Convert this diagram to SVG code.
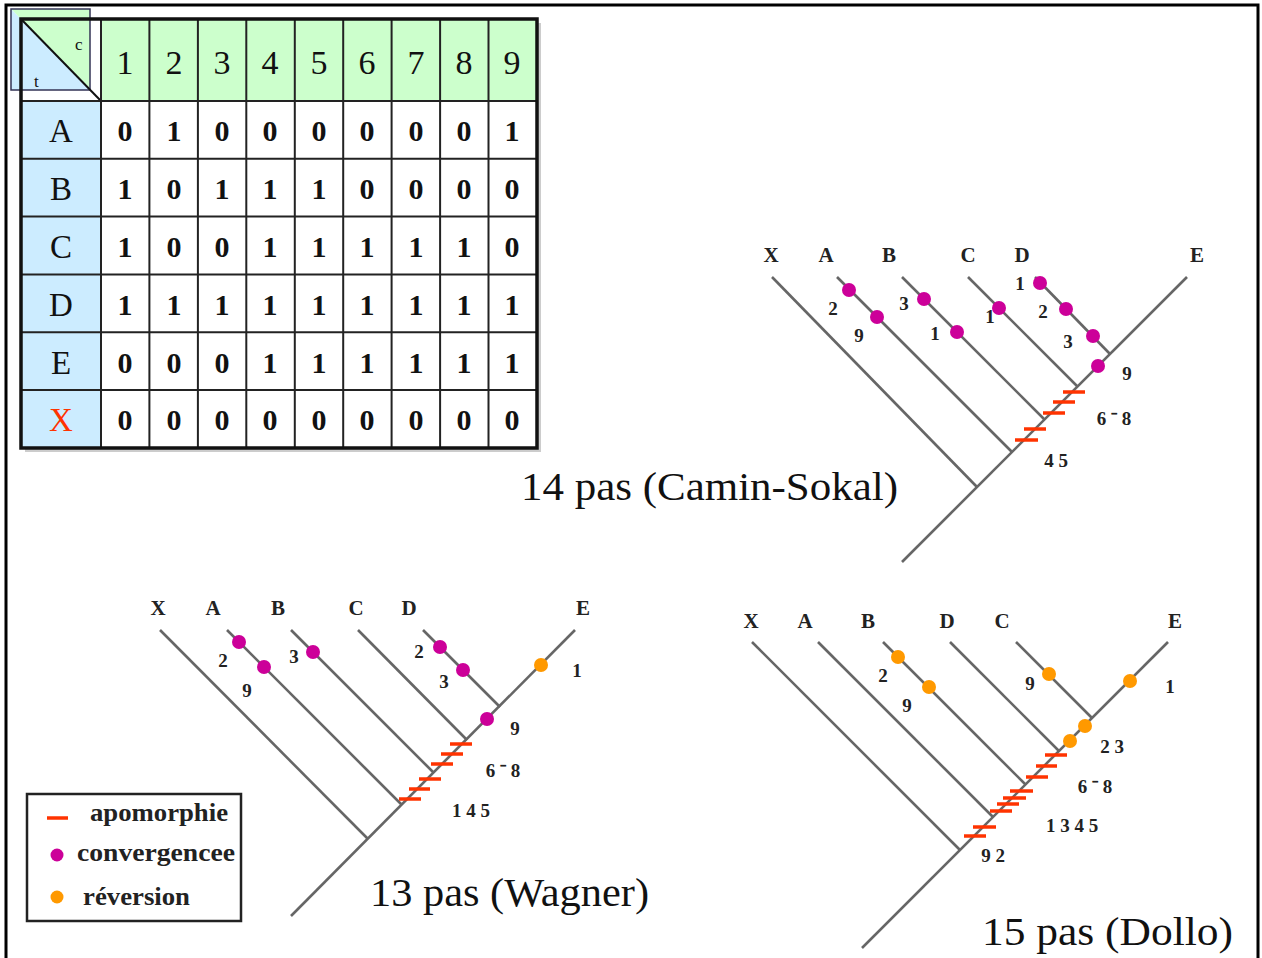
<svg xmlns="http://www.w3.org/2000/svg" width="1262" height="958" viewBox="0 0 1262 958">
<style>
.frame{fill:none;stroke:#000;stroke-width:3}
.grid{stroke:#222;stroke-width:2}
.hd{font-family:"Liberation Serif",serif;font-size:34px;fill:#111;text-anchor:middle}
.rl{font-family:"Liberation Serif",serif;font-size:33px;fill:#111;text-anchor:middle}
.dt{font-family:"Liberation Serif",serif;font-size:30px;font-weight:bold;fill:#111;text-anchor:middle}
.br{stroke:#666;stroke-width:2.6;fill:none;stroke-linecap:butt}
.apo{stroke:#ff3300;stroke-width:3.5}
.cv{fill:#cc0099}
.rv{fill:#ff9900}
.tl{font-family:"Liberation Serif",serif;font-size:21px;font-weight:bold;fill:#222;text-anchor:middle}
.nl{font-family:"Liberation Serif",serif;font-size:19px;font-weight:bold;fill:#222;text-anchor:middle}
.title{font-family:"Liberation Serif",serif;font-size:40px;fill:#111}
.lg{font-family:"Liberation Serif",serif;font-size:25px;font-weight:bold;fill:#222}
</style>
<rect width="1262" height="958" fill="#fff"/>
<path class="frame" d="M6,958 V5 H1258 V958"/>

<g id="table">
  <!-- offset corner shape -->
  <polygon points="11,9 90,9 90,90" fill="#ccffcc"/>
  <polygon points="11,9 11,90 90,90" fill="#ccecff"/>
  <rect x="25" y="23" width="516" height="429" fill="#999" opacity="0.5"/>
  <rect x="21" y="19" width="516" height="429" fill="#fff"/>
  <rect x="101" y="19" width="436" height="82" fill="#ccffcc"/>
  <rect x="21" y="101" width="80" height="347" fill="#ccecff"/>
  <polygon points="21,19 90,19 90,90" fill="#ccffcc"/>
  <polygon points="21,19 21,90 90,90" fill="#ccecff"/>
  <rect x="11" y="9" width="79" height="81" fill="none" stroke="#335" stroke-width="1.5"/>
  <line x1="21" y1="19" x2="101" y2="101" stroke="#111" stroke-width="2"/>
  <text x="75" y="50" font-family="Liberation Serif,serif" font-size="17" fill="#111">c</text>
  <text x="34" y="87" font-family="Liberation Serif,serif" font-size="17" fill="#111">t</text>
  <g class="grid">
    <line x1="101" y1="19" x2="101" y2="448"/>
    <line x1="149.4" y1="19" x2="149.4" y2="448"/>
    <line x1="197.9" y1="19" x2="197.9" y2="448"/>
    <line x1="246.3" y1="19" x2="246.3" y2="448"/>
    <line x1="294.8" y1="19" x2="294.8" y2="448"/>
    <line x1="343.2" y1="19" x2="343.2" y2="448"/>
    <line x1="391.6" y1="19" x2="391.6" y2="448"/>
    <line x1="440.1" y1="19" x2="440.1" y2="448"/>
    <line x1="488.5" y1="19" x2="488.5" y2="448"/>
    <line x1="101" y1="101" x2="537" y2="101"/>
    <line x1="21" y1="158.8" x2="537" y2="158.8"/>
    <line x1="21" y1="216.6" x2="537" y2="216.6"/>
    <line x1="21" y1="274.4" x2="537" y2="274.4"/>
    <line x1="21" y1="332.2" x2="537" y2="332.2"/>
    <line x1="21" y1="390" x2="537" y2="390"/>
  </g>
  <line x1="21" y1="101" x2="101" y2="101" stroke="#222" stroke-width="2"/>
  <rect x="21" y="19" width="516" height="429" fill="none" stroke="#111" stroke-width="3.5"/>
  <g id="hdr">
    <text class="hd" x="125" y="74">1</text><text class="hd" x="174" y="74">2</text><text class="hd" x="222" y="74">3</text>
    <text class="hd" x="270" y="74">4</text><text class="hd" x="319" y="74">5</text><text class="hd" x="367" y="74">6</text>
    <text class="hd" x="416" y="74">7</text><text class="hd" x="464" y="74">8</text><text class="hd" x="512" y="74">9</text>
  </g>
  <g id="rows">
    <text class="rl" x="61" y="142">A</text>
    <text class="rl" x="61" y="200">B</text>
    <text class="rl" x="61" y="258">C</text>
    <text class="rl" x="61" y="316">D</text>
    <text class="rl" x="61" y="374">E</text>
    <text class="rl" x="61" y="431" fill="#ff3300" style="fill:#ff3300">X</text>
  </g>
  <g id="data">
    <text class="dt" y="141"><tspan x="125">0</tspan><tspan x="174">1</tspan><tspan x="222">0</tspan><tspan x="270">0</tspan><tspan x="319">0</tspan><tspan x="367">0</tspan><tspan x="416">0</tspan><tspan x="464">0</tspan><tspan x="512">1</tspan></text>
    <text class="dt" y="199"><tspan x="125">1</tspan><tspan x="174">0</tspan><tspan x="222">1</tspan><tspan x="270">1</tspan><tspan x="319">1</tspan><tspan x="367">0</tspan><tspan x="416">0</tspan><tspan x="464">0</tspan><tspan x="512">0</tspan></text>
    <text class="dt" y="257"><tspan x="125">1</tspan><tspan x="174">0</tspan><tspan x="222">0</tspan><tspan x="270">1</tspan><tspan x="319">1</tspan><tspan x="367">1</tspan><tspan x="416">1</tspan><tspan x="464">1</tspan><tspan x="512">0</tspan></text>
    <text class="dt" y="315"><tspan x="125">1</tspan><tspan x="174">1</tspan><tspan x="222">1</tspan><tspan x="270">1</tspan><tspan x="319">1</tspan><tspan x="367">1</tspan><tspan x="416">1</tspan><tspan x="464">1</tspan><tspan x="512">1</tspan></text>
    <text class="dt" y="373"><tspan x="125">0</tspan><tspan x="174">0</tspan><tspan x="222">0</tspan><tspan x="270">1</tspan><tspan x="319">1</tspan><tspan x="367">1</tspan><tspan x="416">1</tspan><tspan x="464">1</tspan><tspan x="512">1</tspan></text>
    <text class="dt" y="430"><tspan x="125">0</tspan><tspan x="174">0</tspan><tspan x="222">0</tspan><tspan x="270">0</tspan><tspan x="319">0</tspan><tspan x="367">0</tspan><tspan x="416">0</tspan><tspan x="464">0</tspan><tspan x="512">0</tspan></text>
  </g>
</g>

<!-- Camin-Sokal tree -->
<g id="tree-camin">
  <g id="camin-connectors">
    <line class="br" x1="902" y1="562" x2="1187" y2="277"/>
    <line class="br" x1="772" y1="277" x2="977" y2="487"/>
    <line class="br" x1="837" y1="277" x2="1012" y2="452"/>
    <line class="br" x1="902" y1="277" x2="1044" y2="419"/>
    <line class="br" x1="968" y1="277" x2="1077" y2="386"/>
    <line class="br" x1="1035" y1="277" x2="1110" y2="354"/>
  </g>
  <g id="camin-tips">
    <text class="tl" x="771" y="262">X</text>
    <text class="tl" x="826" y="262">A</text>
    <text class="tl" x="889" y="262">B</text>
    <text class="tl" x="968" y="262">C</text>
    <text class="tl" x="1022" y="262">D</text>
    <text class="tl" x="1197" y="262">E</text>
  </g>
  <g id="camin-marks">
    <circle class="cv" cx="849" cy="290" r="7"/>
    <circle class="cv" cx="877" cy="317" r="7"/>
    <circle class="cv" cx="924" cy="299" r="7"/>
    <circle class="cv" cx="957" cy="332" r="7"/>
    <circle class="cv" cx="999" cy="308" r="7"/>
    <circle class="cv" cx="1040" cy="283" r="7"/>
    <circle class="cv" cx="1066" cy="309" r="7"/>
    <circle class="cv" cx="1093" cy="336" r="7"/>
    <circle class="cv" cx="1098" cy="366" r="7"/>
    <line class="apo" x1="1063" y1="392" x2="1085" y2="392"/>
    <line class="apo" x1="1053" y1="402" x2="1075" y2="402"/>
    <line class="apo" x1="1043" y1="413" x2="1065" y2="413"/>
    <line class="apo" x1="1024" y1="429" x2="1046" y2="429"/>
    <line class="apo" x1="1015" y1="440" x2="1038" y2="440"/>
  </g>
  <g id="camin-labels">
    <text class="nl" x="833" y="315">2</text>
    <text class="nl" x="859" y="342">9</text>
    <text class="nl" x="904" y="310">3</text>
    <text class="nl" x="935" y="340">1</text>
    <text class="nl" x="990" y="323">1</text>
    <text class="nl" x="1020" y="290">1</text>
    <text class="nl" x="1043" y="318">2</text>
    <text class="nl" x="1068" y="348">3</text>
    <text class="nl" x="1127" y="380">9</text>
    <text class="nl" x="1114" y="425">6 ⁻ 8</text>
    <text class="nl" x="1056" y="467">4 5</text>
  </g>
  <text class="title" x="521" y="500" textLength="377" lengthAdjust="spacingAndGlyphs">14 pas (Camin-Sokal)</text>
</g>

<!-- Wagner tree -->
<g id="tree-wagner">
  <g id="wagner-connectors">
    <line class="br" x1="291" y1="916" x2="575" y2="630"/>
    <line class="br" x1="160" y1="630" x2="368" y2="839"/>
    <line class="br" x1="227" y1="630" x2="402" y2="805"/>
    <line class="br" x1="291" y1="630" x2="434" y2="773"/>
    <line class="br" x1="358" y1="630" x2="467" y2="740"/>
    <line class="br" x1="423" y1="630" x2="500" y2="707"/>
  </g>
  <g id="wagner-tips">
    <text class="tl" x="158" y="615">X</text>
    <text class="tl" x="213" y="615">A</text>
    <text class="tl" x="278" y="615">B</text>
    <text class="tl" x="356" y="615">C</text>
    <text class="tl" x="409" y="615">D</text>
    <text class="tl" x="583" y="615">E</text>
  </g>
  <g id="wagner-marks">
    <circle class="cv" cx="239" cy="642" r="7"/>
    <circle class="cv" cx="264" cy="667" r="7"/>
    <circle class="cv" cx="313" cy="652" r="7"/>
    <circle class="cv" cx="440" cy="647" r="7"/>
    <circle class="cv" cx="463" cy="670" r="7"/>
    <circle class="cv" cx="487" cy="719" r="7"/>
    <circle class="rv" cx="541" cy="665" r="7"/>
    <line class="apo" x1="450" y1="744" x2="472" y2="744"/>
    <line class="apo" x1="441" y1="754" x2="463" y2="754"/>
    <line class="apo" x1="431" y1="764" x2="453" y2="764"/>
    <line class="apo" x1="419" y1="779" x2="441" y2="779"/>
    <line class="apo" x1="409" y1="789" x2="430" y2="789"/>
    <line class="apo" x1="399" y1="799" x2="421" y2="799"/>
  </g>
  <g id="wagner-labels">
    <text class="nl" x="223" y="667">2</text>
    <text class="nl" x="247" y="697">9</text>
    <text class="nl" x="294" y="663">3</text>
    <text class="nl" x="419" y="658">2</text>
    <text class="nl" x="444" y="688">3</text>
    <text class="nl" x="577" y="677">1</text>
    <text class="nl" x="515" y="735">9</text>
    <text class="nl" x="503" y="777">6 ⁻ 8</text>
    <text class="nl" x="471" y="817">1 4 5</text>
  </g>
  <text class="title" x="370" y="906" textLength="279" lengthAdjust="spacingAndGlyphs">13 pas (Wagner)</text>
</g>

<!-- Dollo tree -->
<g id="tree-dollo">
  <g id="dollo-connectors">
    <line class="br" x1="862" y1="948" x2="1168" y2="642"/>
    <line class="br" x1="752" y1="642" x2="960" y2="850"/>
    <line class="br" x1="818" y1="642" x2="993" y2="817"/>
    <line class="br" x1="883" y1="642" x2="1025" y2="784"/>
    <line class="br" x1="950" y1="642" x2="1059" y2="751"/>
    <line class="br" x1="1016" y1="642" x2="1092" y2="718"/>
  </g>
  <g id="dollo-tips">
    <text class="tl" x="751" y="628">X</text>
    <text class="tl" x="805" y="628">A</text>
    <text class="tl" x="868" y="628">B</text>
    <text class="tl" x="947" y="628">D</text>
    <text class="tl" x="1002" y="628">C</text>
    <text class="tl" x="1175" y="628">E</text>
  </g>
  <g id="dollo-marks">
    <circle class="rv" cx="898" cy="657" r="7"/>
    <circle class="rv" cx="929" cy="687" r="7"/>
    <circle class="rv" cx="1049" cy="674" r="7"/>
    <circle class="rv" cx="1130" cy="681" r="7"/>
    <circle class="rv" cx="1085" cy="726" r="7"/>
    <circle class="rv" cx="1070" cy="741" r="7"/>
    <line class="apo" x1="1045" y1="755" x2="1067" y2="755"/>
    <line class="apo" x1="1036" y1="766" x2="1057" y2="766"/>
    <line class="apo" x1="1026" y1="777" x2="1048" y2="777"/>
    <line class="apo" x1="1010" y1="791" x2="1033" y2="791"/>
    <line class="apo" x1="1003" y1="798" x2="1026" y2="798"/>
    <line class="apo" x1="997" y1="804" x2="1019" y2="804"/>
    <line class="apo" x1="990" y1="811" x2="1012" y2="811"/>
    <line class="apo" x1="973" y1="827" x2="996" y2="827"/>
    <line class="apo" x1="964" y1="836" x2="986" y2="836"/>
  </g>
  <g id="dollo-labels">
    <text class="nl" x="883" y="682">2</text>
    <text class="nl" x="907" y="712">9</text>
    <text class="nl" x="1030" y="690">9</text>
    <text class="nl" x="1170" y="693">1</text>
    <text class="nl" x="1112" y="753">2 3</text>
    <text class="nl" x="1095" y="793">6 ⁻ 8</text>
    <text class="nl" x="1072" y="832">1 3 4 5</text>
    <text class="nl" x="993" y="862">9 2</text>
  </g>
  <text class="title" x="982" y="945" textLength="251" lengthAdjust="spacingAndGlyphs">15 pas (Dollo)</text>
</g>

<!-- Legend -->
<g id="legend">
  <rect x="27" y="794" width="214" height="127" fill="#fff" stroke="#222" stroke-width="2.5"/>
  <line class="apo" x1="47" y1="818" x2="68" y2="818"/>
  <circle class="cv" cx="57" cy="855" r="6.5"/>
  <circle class="rv" cx="57" cy="897" r="6.5"/>
  <text class="lg" x="90" y="821" textLength="138" lengthAdjust="spacingAndGlyphs">apomorphie</text>
  <text class="lg" x="77" y="861" textLength="158" lengthAdjust="spacingAndGlyphs">convergencee</text>
  <text class="lg" x="83" y="905" textLength="107" lengthAdjust="spacingAndGlyphs">réversion</text>
</g>
</svg>
